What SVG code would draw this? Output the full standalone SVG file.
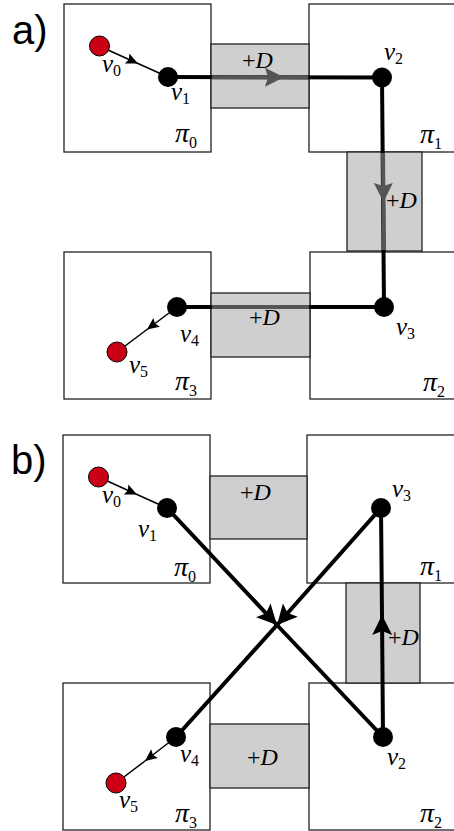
<svg xmlns="http://www.w3.org/2000/svg" width="454" height="831" viewBox="0 0 454 831">
<style>
  .part{fill:#fff;stroke:#222;stroke-width:1.3}
  .dbox{fill:#cfcfcf;stroke:#222;stroke-width:1.3}
  .thick{fill:none;stroke:#000;stroke-width:4}
  .gray{fill:none;stroke:#555;stroke-width:4}
  .thin{fill:none;stroke:#000;stroke-width:1.5}
  .vb{fill:#000}
  .vr{fill:#cc0014;stroke:#000;stroke-width:1}
  .m{font-family:"Liberation Serif",serif;font-style:italic;font-size:25px;fill:#000}
  .pi{font-family:"Liberation Serif",serif;font-style:italic;font-size:28px;fill:#000}
  .s{font-style:normal;font-size:16px}
  .d{font-family:"Liberation Serif",serif;font-size:24px;fill:#000}
  .d tspan{font-style:italic}
  .tag{font-family:"Liberation Sans",Arial,sans-serif;font-size:40px;fill:#000}
</style>
<defs>
  <marker id="aThick" markerUnits="userSpaceOnUse" markerWidth="22" markerHeight="22" viewBox="-20 -11 22 22" refX="0" refY="0" orient="auto" overflow="visible"><path d="M0,0 L-20,-10 L-16,0 L-20,10 z" fill="#000"/></marker>
  <marker id="aGray" markerUnits="userSpaceOnUse" markerWidth="22" markerHeight="22" viewBox="-20 -11 22 22" refX="0" refY="0" orient="auto" overflow="visible"><path d="M0,0 L-19,-9.5 L-16,0 L-19,9.5 z" fill="#555"/></marker>
  <marker id="aThin" markerUnits="userSpaceOnUse" markerWidth="14" markerHeight="14" viewBox="-13 -7 14 14" refX="0" refY="0" orient="auto" overflow="visible"><path d="M0,0 L-12,-5.5 L-10,0 L-12,5.5 z" fill="#000"/></marker>
</defs>

<text class="tag" x="12" y="44">a)</text>
<text class="tag" x="11" y="474">b)</text>

<!-- Panel a -->
<g id="a-pi0"><rect class="part" x="64" y="4" width="147" height="148"/><text class="pi" x="175" y="142">π<tspan class="s" dy="6">0</tspan></text></g>
<g id="a-pi1"><rect class="part" x="309" y="4" width="152" height="148"/><text class="pi" x="420" y="143">π<tspan class="s" dy="6">1</tspan></text></g>
<g id="a-pi2"><rect class="part" x="310" y="252" width="152" height="147"/><text class="pi" x="423" y="391">π<tspan class="s" dy="6">2</tspan></text></g>
<g id="a-pi3"><rect class="part" x="64" y="252" width="147" height="147"/><text class="pi" x="175" y="390">π<tspan class="s" dy="6">3</tspan></text></g>
<g id="a-d01"><rect class="dbox" x="211" y="44" width="98" height="64"/><text class="d" x="242" y="68">+<tspan>D</tspan></text></g>
<g id="a-d12"><rect class="dbox" x="347" y="152" width="75" height="99"/><text class="d" x="386" y="208">+<tspan>D</tspan></text></g>
<g id="a-d23"><rect class="dbox" x="211" y="293" width="99" height="64"/><text class="d" x="249" y="325">+<tspan>D</tspan></text></g>

<g id="a-connectors">
  <path class="thin" d="M99,46 L138,63.5 L168,77" marker-mid="url(#aThin)"/>
  <path class="thick" d="M168,77 L382,77.5 L384,307 L177,307"/>
  <path class="gray" d="M212,77.2 L284,77.3 L308,77.4" marker-mid="url(#aGray)"/>
  <path class="gray" d="M383,153 L383.5,202 L384,250" marker-mid="url(#aGray)"/>
  <path class="gray" d="M212,307 L309,307"/>
  <path class="thin" d="M177,307 L147,329.5 L117,352" marker-mid="url(#aThin)"/>
</g>

<g id="a-v0"><circle class="vr" cx="99.5" cy="46" r="10"/><text class="m" x="102" y="72">v<tspan class="s" dy="4">0</tspan></text></g>
<g id="a-v1"><circle class="vb" cx="168" cy="77" r="10"/><text class="m" x="171" y="100">v<tspan class="s" dy="4">1</tspan></text></g>
<g id="a-v2"><circle class="vb" cx="382" cy="77.5" r="10"/><text class="m" x="384" y="60">v<tspan class="s" dy="4">2</tspan></text></g>
<g id="a-v3"><circle class="vb" cx="384" cy="307" r="10"/><text class="m" x="396" y="335">v<tspan class="s" dy="4">3</tspan></text></g>
<g id="a-v4"><circle class="vb" cx="177" cy="307" r="10"/><text class="m" x="180" y="342">v<tspan class="s" dy="4">4</tspan></text></g>
<g id="a-v5"><circle class="vr" cx="117" cy="352" r="10"/><text class="m" x="129" y="373">v<tspan class="s" dy="4">5</tspan></text></g>

<!-- Panel b -->
<g id="b-pi0"><rect class="part" x="63" y="435" width="147" height="148"/><text class="pi" x="174" y="576">π<tspan class="s" dy="6">0</tspan></text></g>
<g id="b-pi1"><rect class="part" x="307" y="435" width="155" height="148"/><text class="pi" x="420" y="575">π<tspan class="s" dy="6">1</tspan></text></g>
<g id="b-pi2"><rect class="part" x="309" y="683" width="153" height="147"/><text class="pi" x="420" y="822">π<tspan class="s" dy="6">2</tspan></text></g>
<g id="b-pi3"><rect class="part" x="63" y="683" width="147" height="147"/><text class="pi" x="175" y="822">π<tspan class="s" dy="6">3</tspan></text></g>
<g id="b-d01"><rect class="dbox" x="210" y="476" width="97" height="63"/><text class="d" x="240" y="500">+<tspan>D</tspan></text></g>
<g id="b-d12"><rect class="dbox" x="346" y="583" width="74" height="100"/><text class="d" x="388" y="645">+<tspan>D</tspan></text></g>
<g id="b-d23"><rect class="dbox" x="210" y="724" width="99" height="64"/><text class="d" x="247" y="765">+<tspan>D</tspan></text></g>

<g id="b-connectors">
  <path class="thin" d="M98.5,477 L137,494.5 L167,508" marker-mid="url(#aThin)"/>
  <path class="thick" d="M167,508 L277,625 L383,737" marker-mid="url(#aThick)"/>
  <path class="thick" d="M381,508 L277,625 L176,737" marker-mid="url(#aThick)"/>
  <path class="thick" d="M383,737 L382,615 L381,508" marker-mid="url(#aThick)"/>
  <path class="thin" d="M176,737 L145,761 L116,783" marker-mid="url(#aThin)"/>
</g>

<g id="b-v0"><circle class="vr" cx="98.5" cy="477" r="10"/><text class="m" x="102" y="503">v<tspan class="s" dy="4">0</tspan></text></g>
<g id="b-v1"><circle class="vb" cx="167" cy="508" r="10"/><text class="m" x="138" y="537">v<tspan class="s" dy="4">1</tspan></text></g>
<g id="b-v3"><circle class="vb" cx="381" cy="508" r="10"/><text class="m" x="392" y="497">v<tspan class="s" dy="4">3</tspan></text></g>
<g id="b-v2"><circle class="vb" cx="383" cy="737" r="10"/><text class="m" x="387" y="765">v<tspan class="s" dy="4">2</tspan></text></g>
<g id="b-v4"><circle class="vb" cx="176" cy="737" r="10"/><text class="m" x="180" y="762">v<tspan class="s" dy="4">4</tspan></text></g>
<g id="b-v5"><circle class="vr" cx="116" cy="783" r="10"/><text class="m" x="119" y="808">v<tspan class="s" dy="4">5</tspan></text></g>
</svg>
